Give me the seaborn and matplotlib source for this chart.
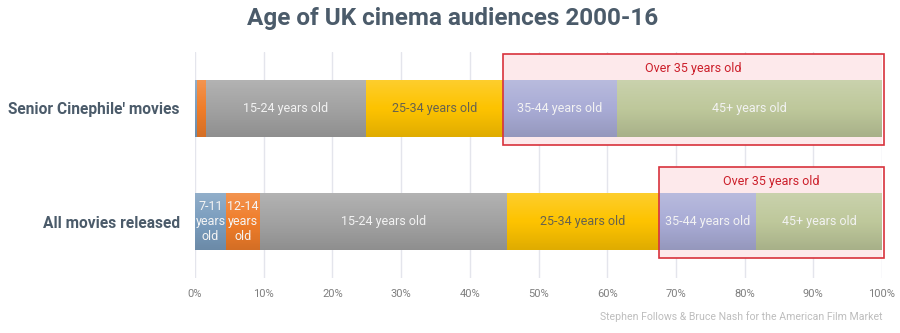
import numpy as np
import pandas as pd
import matplotlib
matplotlib.use("Agg")
import matplotlib.pyplot as plt
from matplotlib.patches import Rectangle
import seaborn as sns

categories = ["Senior Cinephile' movies", "All movies released"]
age_groups = ["7-11 years old", "12-14 years old", "15-24 years old",
              "25-34 years old", "35-44 years old", "45+ years old"]
senior_values = [0.3, 1.3, 23.3, 19.9, 16.6, 38.6]
all_values = [4.5, 5.0, 35.9, 22.1, 14.2, 18.3]
senior_labels = ["", "", "15-24 years old", "25-34 years old", "35-44 years old", "45+ years old"]
all_labels = ["7-11\nyears\nold", "12-14\nyears\nold", "15-24 years old",
              "25-34 years old", "35-44 years old", "45+ years old"]
colors = ["#7a9dbe", "#f07d2a", "#a2a2a2", "#fdc300", "#a9acd6", "#bec89b"]
text_colors = ["#f4f4f4", "#f4f4f4", "#f2f2f2", "#66624f", "#f2f2f2", "#f2f2f2"]
highlight_label = "Over 35 years old"
highlight_from = 4  # index of first age group in the highlight
xticks = [0, 10, 20, 30, 40, 50, 60, 70, 80, 90, 100]
xtick_labels = [f"{t}%" for t in xticks]

values = [senior_values, all_values]
labels = [senior_labels, all_labels]

sns.set_theme(style="white")
plt.rcParams["font.family"] = ["Roboto", "DejaVu Sans"]

fig = plt.figure(figsize=(9, 3.33), dpi=100)
ax = fig.add_axes([0.2167, 0.165, 0.98 - 0.2167, 0.844 - 0.165])

# long table of cumulative totals
rows = []
for ci, cat in enumerate(categories):
    cum = np.cumsum(values[ci])
    for gi, g in enumerate(age_groups):
        rows.append({"category": cat, "group": g, "cum": cum[gi], "gi": gi})
df = pd.DataFrame(rows)

bar_w = 0.5
for gi in reversed(range(len(age_groups))):
    sub = df[df["gi"] == gi]
    sns.barplot(data=sub, x="cum", y="category", order=categories, orient="h",
                color=colors[gi], saturation=1, width=bar_w, ax=ax,
                zorder=3, linewidth=0)

# vertical gradient overlay on each bar
n = 64
grad = np.zeros((n, 1, 4))
t = np.linspace(0, 1, n)
for i, v in enumerate(t):
    if v < 0.5:
        grad[i, 0, :3] = 1.0
        grad[i, 0, 3] = 0.18 * (0.5 - v) / 0.5
    else:
        grad[i, 0, :3] = 0.0
        grad[i, 0, 3] = 0.12 * (v - 0.5) / 0.5
for ci in range(len(categories)):
    tot = float(np.sum(values[ci]))
    ax.imshow(grad, extent=(0, tot, ci + bar_w / 2, ci - bar_w / 2),
              origin="upper", aspect="auto", zorder=4, interpolation="bilinear")

# highlight boxes and labels
for ci in range(len(categories)):
    cum = np.concatenate([[0], np.cumsum(values[ci])])
    x0 = cum[highlight_from]
    x1 = cum[-1] + 0.3
    y0 = ci - 0.48
    h = 0.80
    ax.add_patch(Rectangle((x0, y0), x1 - x0, h, facecolor="#fde9eb",
                           edgecolor="none", zorder=2))
    ax.add_patch(Rectangle((x0, y0), x1 - x0, h, facecolor="none",
                           edgecolor="#d8323c", linewidth=1.2, zorder=6,
                           clip_on=False))
    ax.text((x0 + x1) / 2, ci - 0.355, highlight_label, ha="center", va="center",
            color="#cc1f2b", fontsize=9, zorder=7)

    # segment labels
    for gi, lab in enumerate(labels[ci]):
        if not lab:
            continue
        xc = (cum[gi] + cum[gi + 1]) / 2
        ax.text(xc, ci, lab, ha="center", va="center", color=text_colors[gi],
                fontsize=9, linespacing=1.2, zorder=7)

ax.set_xlim(0, 100)
ax.set_ylim(1.5, -0.5)
ax.set_xticks(xticks)
ax.set_xticklabels(xtick_labels, color="#7f7f7f", fontsize=8)
ax.tick_params(axis="x", length=0, pad=8)
ax.tick_params(axis="y", length=0, pad=11)
ax.set_yticks(range(len(categories)))
ax.set_yticklabels(categories, fontsize=11.2, fontweight="bold", color="#4b5b6a")
ax.set_xlabel("")
ax.set_ylabel("")
for s in ax.spines.values():
    s.set_visible(False)
ax.grid(False)
for xt in xticks:
    ax.axvline(xt, color="#e4e5ec", linewidth=1, zorder=1)

fig.text(0.503, 0.945, "Age of UK cinema audiences 2000-16", ha="center", va="center",
         fontsize=17.5, fontweight="bold", color="#4b5b6a")
fig.text(0.98, 0.048, "Stephen Follows & Bruce Nash for the American Film Market",
         ha="right", va="center", fontsize=7.6, color="#bdbdbd")

fig.savefig("out.png", dpi=100)
